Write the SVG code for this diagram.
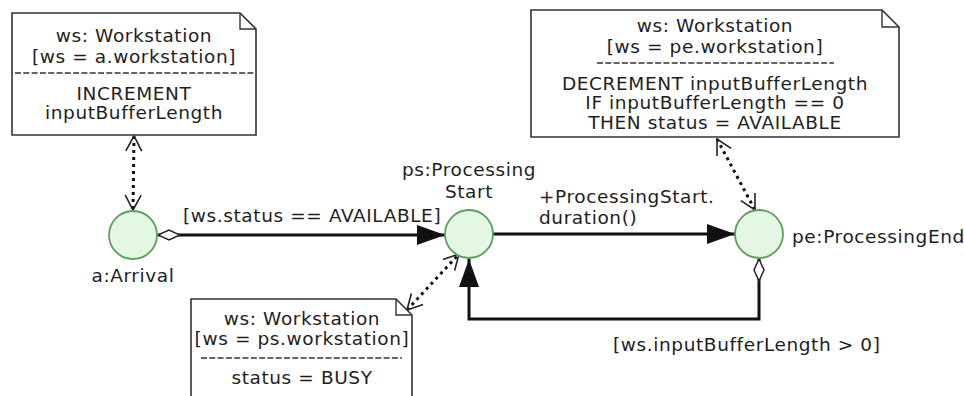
<svg xmlns="http://www.w3.org/2000/svg" width="964" height="396" viewBox="0 0 964 396">
<style>
text{font-family:"DejaVu Sans","Verdana",sans-serif;font-size:18.5px;letter-spacing:0.6px;fill:#1e1e1e}
.c{text-anchor:middle}
.note{fill:#fff;stroke:#333;stroke-width:1.6}
.fold{fill:none;stroke:#333;stroke-width:1.4}
.sep{fill:none;stroke:#333;stroke-width:1.6;stroke-dasharray:6 2.3}
.state{fill:#e3f7e3;stroke:#5e9e5e;stroke-width:1.8}
.flow{fill:none;stroke:#111;stroke-width:3}
.dep{fill:none;stroke:#111;stroke-width:3;stroke-dasharray:3 4}
</style>
<defs>
<marker id="arrow" viewBox="0 0 28 20" refX="28" refY="10" markerWidth="28" markerHeight="20" markerUnits="userSpaceOnUse" orient="auto">
<path d="M0,0 L28,10 L0,20 Z" fill="#111"/>
</marker>
<marker id="diamond" viewBox="-1 -1 24 12" refX="0" refY="5" markerWidth="24" markerHeight="12" markerUnits="userSpaceOnUse" orient="auto">
<path d="M0,5 L11,0 L22,5 L11,10 Z" fill="#fff" stroke="#222" stroke-width="1.5"/>
</marker>
<marker id="open" viewBox="-1 -1 17 19" refX="15" refY="8" markerWidth="17" markerHeight="19" markerUnits="userSpaceOnUse" orient="auto-start-reverse">
<path d="M0,0 L15,8 L0,16" fill="none" stroke="#222" stroke-width="1.6"/>
</marker>
</defs>

<g id="connectors">
<path class="flow" d="M158,235 L445,235" marker-start="url(#diamond)" marker-end="url(#arrow)"/>
<path class="flow" d="M493,234 L735,234" marker-end="url(#arrow)"/>
<path class="flow" d="M759,259 L759,319 L469,319 L469,259" marker-start="url(#diamond)" marker-end="url(#arrow)"/>
<path class="dep" d="M134,136 L133,210" marker-start="url(#open)" marker-end="url(#open)"/>
<path class="dep" d="M717,139 L755,210" marker-start="url(#open)" marker-end="url(#open)"/>
<path class="dep" d="M407,310 L459,254" marker-start="url(#open)" marker-end="url(#open)"/>
<text x="183" y="222">[ws.status == AVAILABLE]</text>
<text x="539" y="203">+ProcessingStart.</text>
<text x="539" y="224">duration()</text>
<text x="613" y="351">[ws.inputBufferLength &gt; 0]</text>
</g>

<g id="note-arrival">
<path class="note" d="M12,13 L240,13 L256,29 L256,135 L12,135 Z"/>
<path class="fold" d="M240,13 L240,29 L256,29"/>
<text class="c" x="134" y="42">ws: Workstation</text>
<text class="c" x="134" y="63">[ws = a.workstation]</text>
<path class="sep" d="M15,73 L254,73"/>
<text class="c" x="134" y="100">INCREMENT</text>
<text class="c" x="134" y="119">inputBufferLength</text>
</g>

<g id="note-end">
<path class="note" d="M531,10 L882,10 L899,27 L899,137 L531,137 Z"/>
<path class="fold" d="M882,10 L882,27 L899,27"/>
<text class="c" x="715" y="32">ws: Workstation</text>
<text class="c" x="715" y="53">[ws = pe.workstation]</text>
<path class="sep" d="M597,63 L834,63"/>
<text class="c" x="715" y="90">DECREMENT inputBufferLength</text>
<text class="c" x="715" y="109">IF inputBufferLength == 0</text>
<text class="c" x="715" y="129">THEN status = AVAILABLE</text>
</g>

<g id="note-start">
<path class="note" d="M191,299 L396,299 L412,315 L412,400 L191,400 Z"/>
<path class="fold" d="M396,299 L396,315 L412,315"/>
<text class="c" x="302" y="325">ws: Workstation</text>
<text class="c" x="302" y="345">[ws = ps.workstation]</text>
<path class="sep" d="M201,358 L402,358"/>
<text class="c" x="302" y="384">status = BUSY</text>
</g>

<g id="arrival">
<circle class="state" cx="133" cy="235" r="24"/>
<text class="c" x="133" y="282">a:Arrival</text>
</g>

<g id="processing-start">
<circle class="state" cx="469" cy="234" r="24"/>
<text class="c" x="469" y="176">ps:Processing</text>
<text class="c" x="469" y="198">Start</text>
</g>

<g id="processing-end">
<circle class="state" cx="759" cy="234" r="24"/>
<text x="792" y="243">pe:ProcessingEnd</text>
</g>
</svg>
